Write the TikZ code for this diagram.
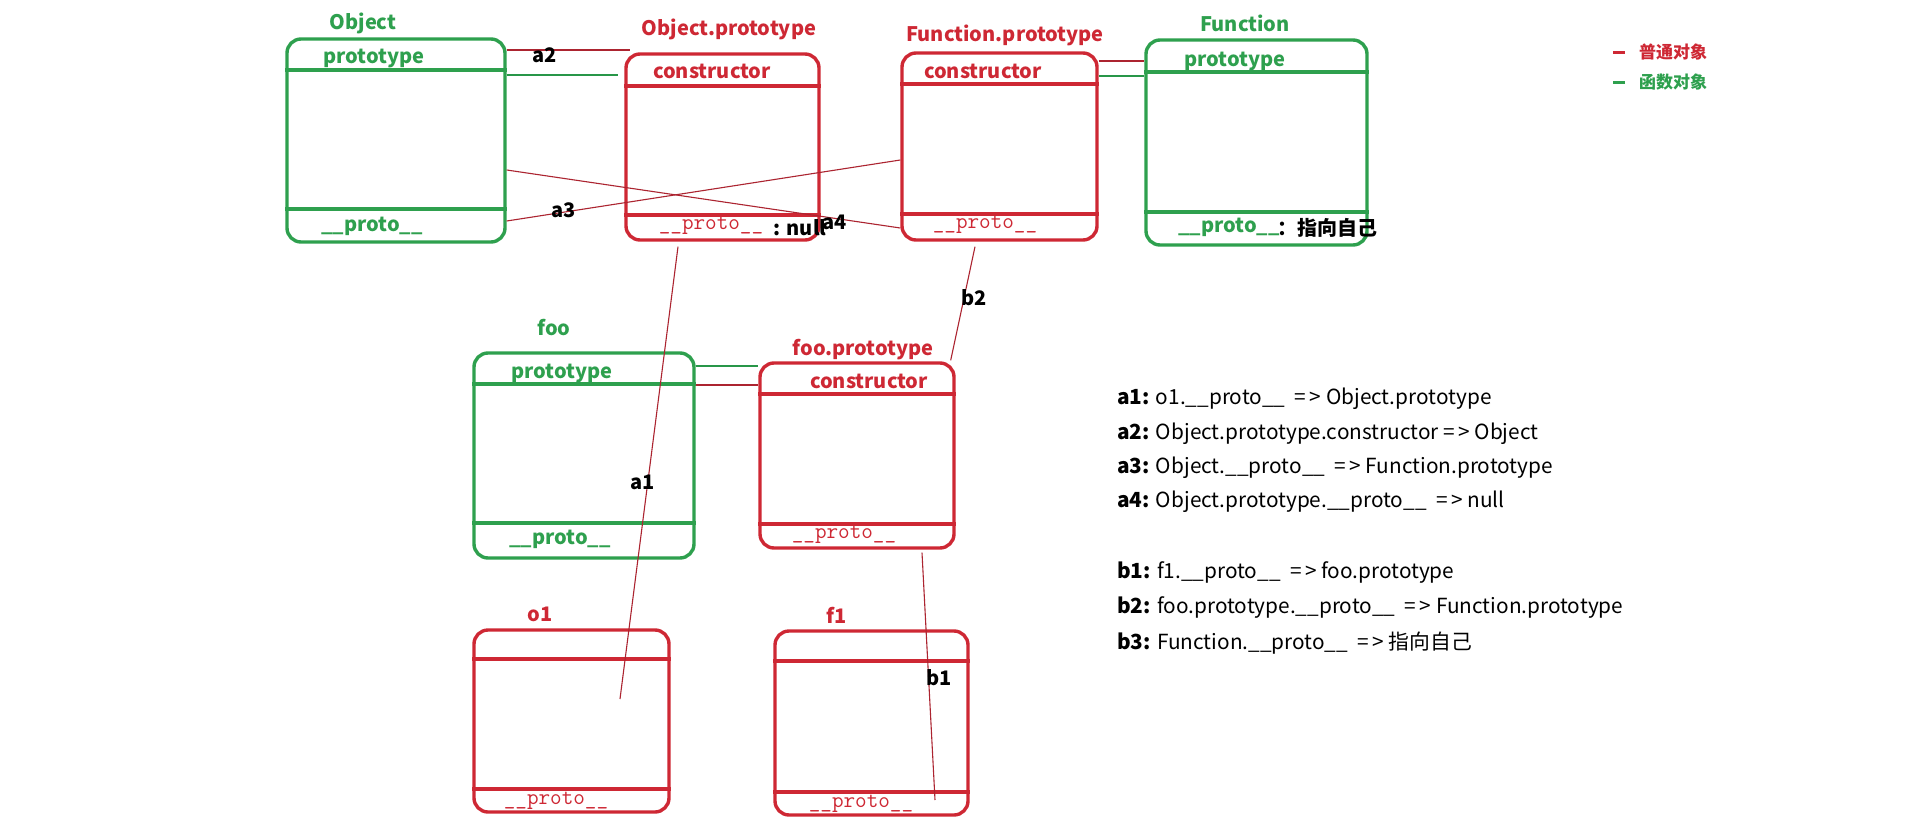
\documentclass[tikz,border=0pt]{standalone}
\usepackage{fontspec}
\setmainfont{Noto Sans CJK SC}
\usetikzlibrary{calc}
\definecolor{myred}{RGB}{206,40,52}
\definecolor{mygreen}{RGB}{46,160,78}
\definecolor{linered}{RGB}{172,36,48}
\definecolor{linegreen}{RGB}{40,150,72}
\begin{document}
\begin{tikzpicture}[x=1pt,y=-1pt,
  objbox/.style={draw, line width=3.4pt, rounded corners=14pt, inner sep=0pt, fill=none},
  redbox/.style={objbox, draw=myred},
  greenbox/.style={objbox, draw=mygreen},
  rdiv/.style={myred, line width=3.4pt},
  gdiv/.style={mygreen, line width=3.4pt},
  rtitle/.style={text=myred, font=\fontsize{20}{24}\selectfont\bfseries, inner sep=0pt},
  gtitle/.style={text=mygreen, font=\fontsize{20}{24}\selectfont\bfseries, inner sep=0pt},
  rmono/.style={text=myred, font=\fontsize{22.5}{26}\selectfont\ttfamily, inner sep=0pt},
  blk/.style={text=black, font=\fontsize{20}{24}\selectfont\bfseries, inner sep=0pt},
  note/.style={text=black, font=\fontsize{20.8}{24}\selectfont, inner sep=0pt, anchor=west},
  rlink/.style={linered, line width=1.1pt},
  glink/.style={linegreen, line width=1.1pt}
]
\useasboundingbox[fill=white] (0,0) rectangle (1917,827);

% ---- boxes ----
\node[greenbox, minimum width=218pt, minimum height=203pt] (Obj) at (396,140.5) {};
\node[redbox,   minimum width=193pt, minimum height=186pt] (OP)  at (722.5,147) {};
\node[redbox,   minimum width=195pt, minimum height=187pt] (FP)  at (999.5,146.5) {};
\node[greenbox, minimum width=221pt, minimum height=205pt] (Fn)  at (1256.5,142.5) {};
\node[greenbox, minimum width=220pt, minimum height=205pt] (foo) at (584,455.5) {};
\node[redbox,   minimum width=194pt, minimum height=185pt] (fooP) at (857,455.5) {};
\node[redbox,   minimum width=195pt, minimum height=182pt] (o1) at (571.5,721) {};
\node[redbox,   minimum width=193pt, minimum height=184pt] (f1) at (871.5,723) {};

% ---- dividers ----
\draw[gdiv] (Obj.west |- 0,70) -- (Obj.east |- 0,70);
\draw[gdiv] (Obj.west |- 0,209) -- (Obj.east |- 0,209);
\draw[rdiv] (OP.west |- 0,86) -- (OP.east |- 0,86);
\draw[rdiv] (OP.west |- 0,215) -- (OP.east |- 0,215);
\draw[rdiv] (FP.west |- 0,84) -- (FP.east |- 0,84);
\draw[rdiv] (FP.west |- 0,214) -- (FP.east |- 0,214);
\draw[gdiv] (Fn.west |- 0,72) -- (Fn.east |- 0,72);
\draw[gdiv] (Fn.west |- 0,212) -- (Fn.east |- 0,212);
\draw[gdiv] (foo.west |- 0,384) -- (foo.east |- 0,384);
\draw[gdiv] (foo.west |- 0,523) -- (foo.east |- 0,523);
\draw[rdiv] (fooP.west |- 0,394) -- (fooP.east |- 0,394);
\draw[rdiv] (fooP.west |- 0,524) -- (fooP.east |- 0,524);
\draw[rdiv] (o1.west |- 0,659) -- (o1.east |- 0,659);
\draw[rdiv] (o1.west |- 0,789) -- (o1.east |- 0,789);
\draw[rdiv] (f1.west |- 0,661) -- (f1.east |- 0,661);
\draw[rdiv] (f1.west |- 0,792) -- (f1.east |- 0,792);

% ---- titles & fields ----
\node[gtitle] (tObj) at (363,23) {Object};
\node[gtitle] (pObj) at (374,58) {prototype};
\node[gtitle] (uObj) at (372,226) {\_\_proto\_\_};

\node[rtitle] (tOP) at (729,29) {Object.prototype};
\node[rtitle] (cOP) at (712,71) {constructor};
\node[rmono] (uOP) at (711,226) {\_\_proto\_\_};
\node[blk] (nOP) at (800,228) {: null};

\node[rtitle] (tFP) at (1005,35) {Function.prototype};
\node[rtitle] (cFP) at (983,71) {constructor};
\node[rmono] (uFP) at (985,225) {\_\_proto\_\_};

\node[gtitle] (tFn) at (1245,23) {Function};
\node[gtitle] (pFn) at (1235,61) {prototype};
\node[gtitle] (uFn) at (1229,227) {\_\_proto\_\_};
\node[blk, anchor=west] (sFn) at (1277,228) {：指向自己};

\node[gtitle] (tfoo) at (554,328) {foo};
\node[gtitle] (pfoo) at (562,373) {prototype};
\node[gtitle] (ufoo) at (560,539) {\_\_proto\_\_};

\node[rtitle] (tfooP) at (863,350) {foo.prototype};
\node[rtitle] (cfooP) at (869,381) {constructor};
\node[rmono] (ufooP) at (844,535) {\_\_proto\_\_};

\node[rtitle] (to1) at (540,614) {o1};
\node[rmono] (uo1) at (556,801) {\_\_proto\_\_};

\node[rtitle] (tf1) at (837,615) {f1};
\node[rmono] (uf1) at (861,804) {\_\_proto\_\_};

% ---- connectors ----
\draw[rlink] (Obj.east |- 0,50) -- ($(OP.west |- 0,50)+(6,0)$);
\draw[glink] (Obj.east |- 0,75) -- ($(OP.west |- 0,75)+(-6,0)$);
\draw[rlink] (FP.east |- 0,61) -- (Fn.west |- 0,61);
\draw[glink] (FP.east |- 0,76) -- (Fn.west |- 0,76);
\draw[glink] (foo.east |- 0,366) -- (fooP.west |- 0,366);
\draw[rlink] (foo.east |- 0,385) -- (fooP.west |- 0,385);
\draw[rlink] (Obj.east |- 0,221) -- (FP.west |- 0,160);
\draw[rlink] (Obj.east |- 0,170) -- (FP.west |- 0,228);
\coordinate (o1in) at (620,699);
\draw[rlink] (o1in) -- ($(OP.south)+(-44.5,5)$);
\draw[rlink] ($(fooP.north east)+(-5,-1)$) -- ($(FP.south)+(-24.5,5)$);
\coordinate (f1in) at (935,800);
\draw[rlink] ($(fooP.south)+(65,3)$) -- (f1in);

% ---- connector labels ----
\node[blk] (la2) at (545,55) {a2};
\node[blk] (la3) at (564,210) {a3};
\node[blk] (la4) at (835,222) {a4};
\node[blk] (la1) at (643,482) {a1};
\node[blk] (lb2) at (974,298) {b2};
\node[blk] (lb1) at (939,678) {b1};

% ---- legend ----
\draw[myred, line width=3pt] (1613,52) -- (1625,52);
\node[text=myred, font=\fontsize{17}{20}\selectfont\bfseries, inner sep=0pt] (lg1) at (1673,52) {普通对象};
\draw[mygreen, line width=3pt] (1613,82) -- (1625,82);
\node[text=mygreen, font=\fontsize{17}{20}\selectfont\bfseries, inner sep=0pt] (lg2) at (1673,82) {函数对象};

% ---- notes ----
\node[note] (n1) at (1117,399) {\textbf{a1:} o1.\_\_proto\_\_\ \ =\,>\ Object.prototype};
\node[note] (n2) at (1117,434) {\textbf{a2:} Object.prototype.constructor =\,>\ Object};
\node[note] (n3) at (1117,468) {\textbf{a3:} Object.\_\_proto\_\_\ \ =\,>\ Function.prototype};
\node[note] (n4) at (1117,502) {\textbf{a4:} Object.prototype.\_\_proto\_\_\ \ =\,>\ null};
\node[note] (n5) at (1117,573) {\textbf{b1:} f1.\_\_proto\_\_\ \ =\,>\ foo.prototype};
\node[note] (n6) at (1117,608) {\textbf{b2:} foo.prototype.\_\_proto\_\_\ \ =\,>\ Function.prototype};
\node[note] (n7) at (1117,643) {\textbf{b3:} Function.\_\_proto\_\_\ \ =\,>\ 指向自己};
\end{tikzpicture}
\end{document}
